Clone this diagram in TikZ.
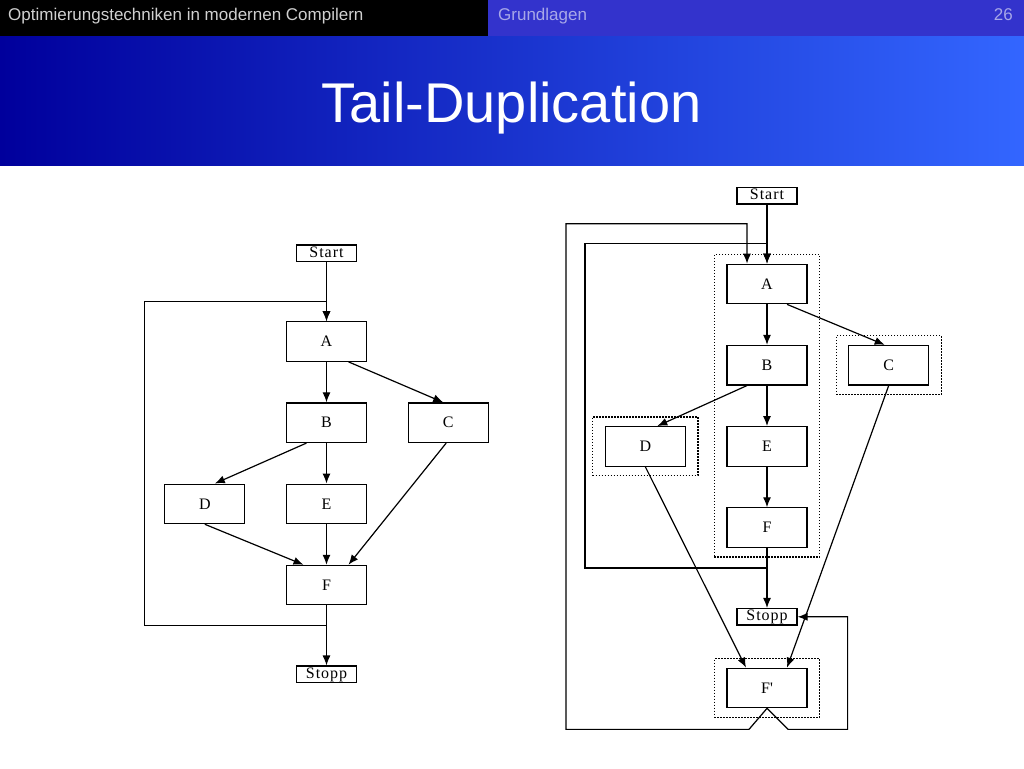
\documentclass[tikz,border=0pt]{standalone}
\usepackage{fontspec}
\setmainfont{Liberation Serif}
\setsansfont{Liberation Sans}
\newfontfamily\boxfont[LetterSpace=6]{Liberation Serif}
\usepackage{tikz}
\usetikzlibrary{positioning,shapes,arrows.meta,fit}
\definecolor{headBlue}{HTML}{3333CC}
\definecolor{headGray}{HTML}{D0D0D0}
\definecolor{headLight}{HTML}{A8A8E8}
\definecolor{titleLeft}{HTML}{00009C}
\definecolor{titleRight}{HTML}{3366FF}
\tikzstyle{block}=[rectangle, draw=black, line width=1.2pt, minimum width=80pt, minimum height=39.5pt, inner sep=0pt, text=black, font=\boxfont\fontsize{16}{18}\selectfont]
\tikzstyle{terminal}=[rectangle, draw=black, line width=1.2pt, minimum width=60pt, text height=10.5pt, text depth=3pt, inner xsep=0pt, inner ysep=1.5pt, text=black, font=\boxfont\fontsize{16}{18}\selectfont]
\tikzstyle{group}=[rectangle, draw=black, line width=1.2pt, dash pattern=on 1.5pt off 1.5pt, inner xsep=12pt, inner ysep=9pt]
\tikzstyle{edge}=[->, line width=1.2pt]
\tikzset{>={Latex[length=10pt,width=8pt]}}

\begin{document}
\begin{tikzpicture}[x=1pt, y=-1pt]
    \useasboundingbox (0,0) rectangle (1024,768);

        % header
        \fill[black] (0,0) rectangle (488,37);
        \fill[headBlue] (488,0) rectangle (1024,37);
        \shade[left color=titleLeft, right color=titleRight] (0,37) rectangle (1024,165);
        \node (course)[anchor=base west, inner sep=0, text=headGray, font=\sffamily\fontsize{17}{20}\selectfont] at (8,21) {Optimierungstechniken in modernen Compilern};
        \node (section)[anchor=base west, inner sep=0, text=headLight, font=\sffamily\fontsize{17}{20}\selectfont] at (498,21) {Grundlagen};
        \node (pageNo)[anchor=base east, inner sep=0, text=headLight, font=\sffamily\fontsize{17}{20}\selectfont] at (1013,21) {26};
        \node (title)[anchor=base, inner sep=0, text=white, font=\sffamily\fontsize{56}{60}\selectfont] at (511.5,122) {Tail-Duplication};

        % left graph
        \node(leftA)[block] at (326.5,341.5) {A};
        \foreach \x [remember=\x as \lastx (initially A)] in {B,E,F}{
            \node(left\x)[block, below=40.5pt of left\lastx]{\x};
        };
        \node (leftC)[block, right=40.5pt of leftB]{C};
        \node (leftD)[block, left=40.5pt of leftE]{D};
        \node (leftStart)[terminal, above=59pt of leftA]{Start};
        \node (leftStopp)[terminal, below=60pt of leftF]{Stopp};

        \draw [edge] (leftStart) -- (leftA);
        \foreach \x/\y in {A/B,B/E,E/F,F/Stopp}{
            \draw [edge] (left\x) -- (left\y);
        };
        \draw [edge] ([xshift=22pt]leftA.south) -- ([xshift=-5pt]leftC.north);
        \draw [edge] ([xshift=-20pt]leftB.south) -- ([xshift=10pt]leftD.north);
        \draw [edge] (leftD.south) -- ([xshift=-23pt]leftF.north);
        \draw [edge] ([xshift=-2pt]leftC.south) -- ([xshift=22pt]leftF.north);
        \draw [edge] (leftF.south) -- ++(0,20) -| ([xshift=-182pt,yshift=20pt]leftA.north) -| (leftA.north);

        % right graph
        \node(rightA)[block] at (767,284) {A};
        \foreach \x [remember=\x as \lastx (initially A)] in {B,E,F}{
            \node(right\x)[block, below=40.5pt of right\lastx]{\x};
        };
        \node (rightC)[block, right=40.5pt of rightB]{C};
        \node (rightD)[block, left=40.5pt of rightE]{D};
        \node (rightStart)[terminal, above=59pt of rightA]{Start};
        \node (rightStopp)[terminal, below=60pt of rightF]{Stopp};
        \node (rightFdup)[block, below=42pt of rightStopp]{F\textquotesingle};

        \node (groupMain)[group, fit=(rightA) (rightF)] {};
        \node (groupC)[group, fit=(rightC)] {};
        \node (groupD)[group, fit=(rightD)] {};
        \node (groupFdup)[group, fit=(rightFdup)] {};

        \draw [edge] (rightStart) -- (rightA);
        \foreach \x/\y in {A/B,B/E,E/F,F/Stopp}{
            \draw [edge] (right\x) -- (right\y);
        };
        \draw [edge] ([xshift=20pt]rightA.south) -- ([xshift=-4pt]rightC.north);
        \draw [edge] ([xshift=-20pt]rightB.south) -- ([xshift=12pt]rightD.north);
        \draw [edge] (rightD.south) -- ([xshift=-21pt]rightFdup.north);
        \draw [edge] (rightC.south) -- ([xshift=20pt]rightFdup.north);
        \draw [edge] (rightF.south) -- ++(0,20) -| ([xshift=-182pt,yshift=20pt]rightA.north) -| (rightA.north);
        \draw [edge] (rightFdup.south) -- ++(-18,21) -| ([xshift=-201pt,yshift=40pt]rightA.north) -| ([xshift=-20pt]rightA.north);
        \draw [edge] (rightFdup.south) -- ++(21,21) -| ([xshift=50pt]rightStopp.east) -- (rightStopp.east);

    \end{tikzpicture}
\end{document}
